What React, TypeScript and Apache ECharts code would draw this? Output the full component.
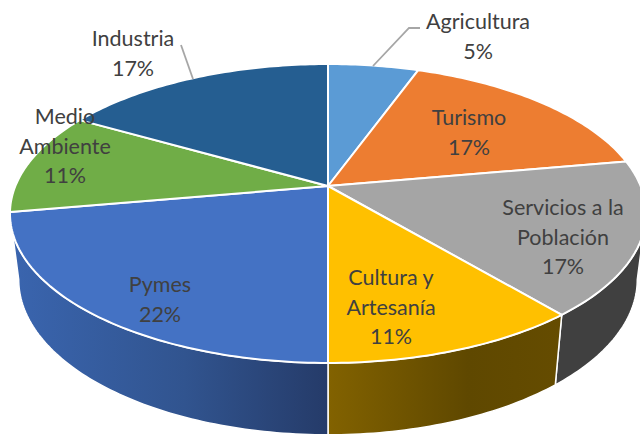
import React, { useEffect, useRef } from "react";
import * as echarts from "echarts";

const categories = ["Agricultura", "Turismo", "Servicios a la Población", "Cultura y Artesanía", "Pymes", "Medio Ambiente", "Industria"];
const shares = [5.5, 16.7, 16.7, 11.1, 22.2, 11.1, 16.7];
const percentLabels = ["5%", "17%", "17%", "11%", "22%", "11%", "17%"];
const topColors = ["#5B9BD5", "#ED7D31", "#A5A5A5", "#FFC000", "#4472C4", "#70AD47", "#255E91"];
const labelLines = [["Agricultura"], ["Turismo"], ["Servicios a la", "Población"], ["Cultura y", "Artesanía"], ["Pymes"], ["Medio", "Ambiente"], ["Industria"]];
const labelCenters = [[478, 21], [469, 117], [563, 207], [391, 277], [160, 284], [65, 116], [133, 38]];

const PERSPECTIVE = 0.184;
const TOP = { x: 328, y: 186, a: 312.6, b: 144.4 };
const BOTTOM = { x: 328, y: 251, a: 304, b: 150 };
const VIS_START = (Math.acos(-PERSPECTIVE) * 180) / Math.PI;
const VIS_END = 360 - VIS_START;
const LINE_HEIGHT = 29.5;
const FONT = "Lato";

const total = shares.reduce((s, v) => s + v, 0);
const starts = shares.map((_, i) => (shares.slice(0, i).reduce((s, v) => s + v, 0) / total) * 360);
const ends = starts.map((s, i) => s + (shares[i] / total) * 360);

function project(deg: number, d: { x: number; y: number; a: number; b: number }): number[] {
  const t = (deg * Math.PI) / 180;
  const u = Math.sin(t);
  const v = Math.cos(t);
  const w = 1 + PERSPECTIVE * v;
  return [d.x + (d.a * u) / w, d.y - (d.b * v) / w];
}

function arc(from: number, to: number, d: typeof TOP): number[][] {
  const n = Math.max(2, Math.ceil(Math.abs(to - from)));
  const pts: number[][] = [];
  for (let i = 0; i <= n; i++) pts.push(project(from + ((to - from) * i) / n, d));
  return pts;
}

function wallFill(i: number): any {
  if (i === 4) {
    return new echarts.graphic.LinearGradient(0, 0, 1, 0, [
      { offset: 0, color: "#3A65AF" },
      { offset: 0.55, color: "#31548F" },
      { offset: 1, color: "#253B69" },
    ]);
  }
  if (i === 3) {
    return new echarts.graphic.LinearGradient(0, 0, 1, 0, [
      { offset: 0, color: "#826200" },
      { offset: 0.6, color: "#5F4800" },
      { offset: 1, color: "#654C00" },
    ]);
  }
  return "#404040";
}

function renderWall(params: any): any {
  const i = params.dataIndex;
  const from = Math.max(starts[i], VIS_START);
  const to = Math.min(ends[i], VIS_END);
  if (to <= from) return { type: "group", children: [] };
  const points = [...arc(from, to, TOP), ...arc(to, from, BOTTOM)];
  return { type: "polygon", shape: { points }, style: { fill: wallFill(i), stroke: "#FFFFFF", lineWidth: 1.5 } };
}

function renderTop(params: any): any {
  const i = params.dataIndex;
  const points = [[TOP.x, TOP.y], ...arc(starts[i], ends[i], TOP)];
  return { type: "polygon", shape: { points }, style: { fill: topColors[i], stroke: "#FFFFFF", lineWidth: 2, lineJoin: "round" } };
}

function buildLabels(): any[] {
  const out: any[] = [];
  categories.forEach((_, i) => {
    const lines = [...labelLines[i], percentLabels[i]];
    lines.forEach((line, k) => {
      out.push({
        type: "text",
        z: 100,
        x: labelCenters[i][0],
        y: labelCenters[i][1] + k * LINE_HEIGHT,
        style: { text: line, fill: "#404040", font: `21.5px ${FONT}`, align: "center", verticalAlign: "middle" },
      });
    });
  });
  out.push({
    type: "polyline", z: 90,
    shape: { points: [[420, 28], [409, 28], [373, 66]] },
    style: { fill: "none", stroke: "#A6A6A6", lineWidth: 1.8 },
  });
  out.push({
    type: "line", z: 90,
    shape: { x1: 181, y1: 45, x2: 193, y2: 79 },
    style: { stroke: "#A6A6A6", lineWidth: 1.8 },
  });
  return out;
}

export default function App() {
  const ref = useRef<HTMLDivElement>(null);
  useEffect(() => {
    document.body.style.margin = "0";
    const chart = echarts.init(ref.current!, undefined, { renderer: "svg" });
    chart.setOption({
      animation: false,
      backgroundColor: "#FFFFFF",
      series: [
        { type: "custom", coordinateSystem: "none", silent: true, z: 1, data: shares, renderItem: renderWall },
        { type: "custom", coordinateSystem: "none", silent: true, z: 2, data: shares, renderItem: renderTop },
      ],
      graphic: buildLabels(),
    });
    return () => chart.dispose();
  }, []);
  return <div ref={ref} style={{ width: 640, height: 434 }} />;
}
